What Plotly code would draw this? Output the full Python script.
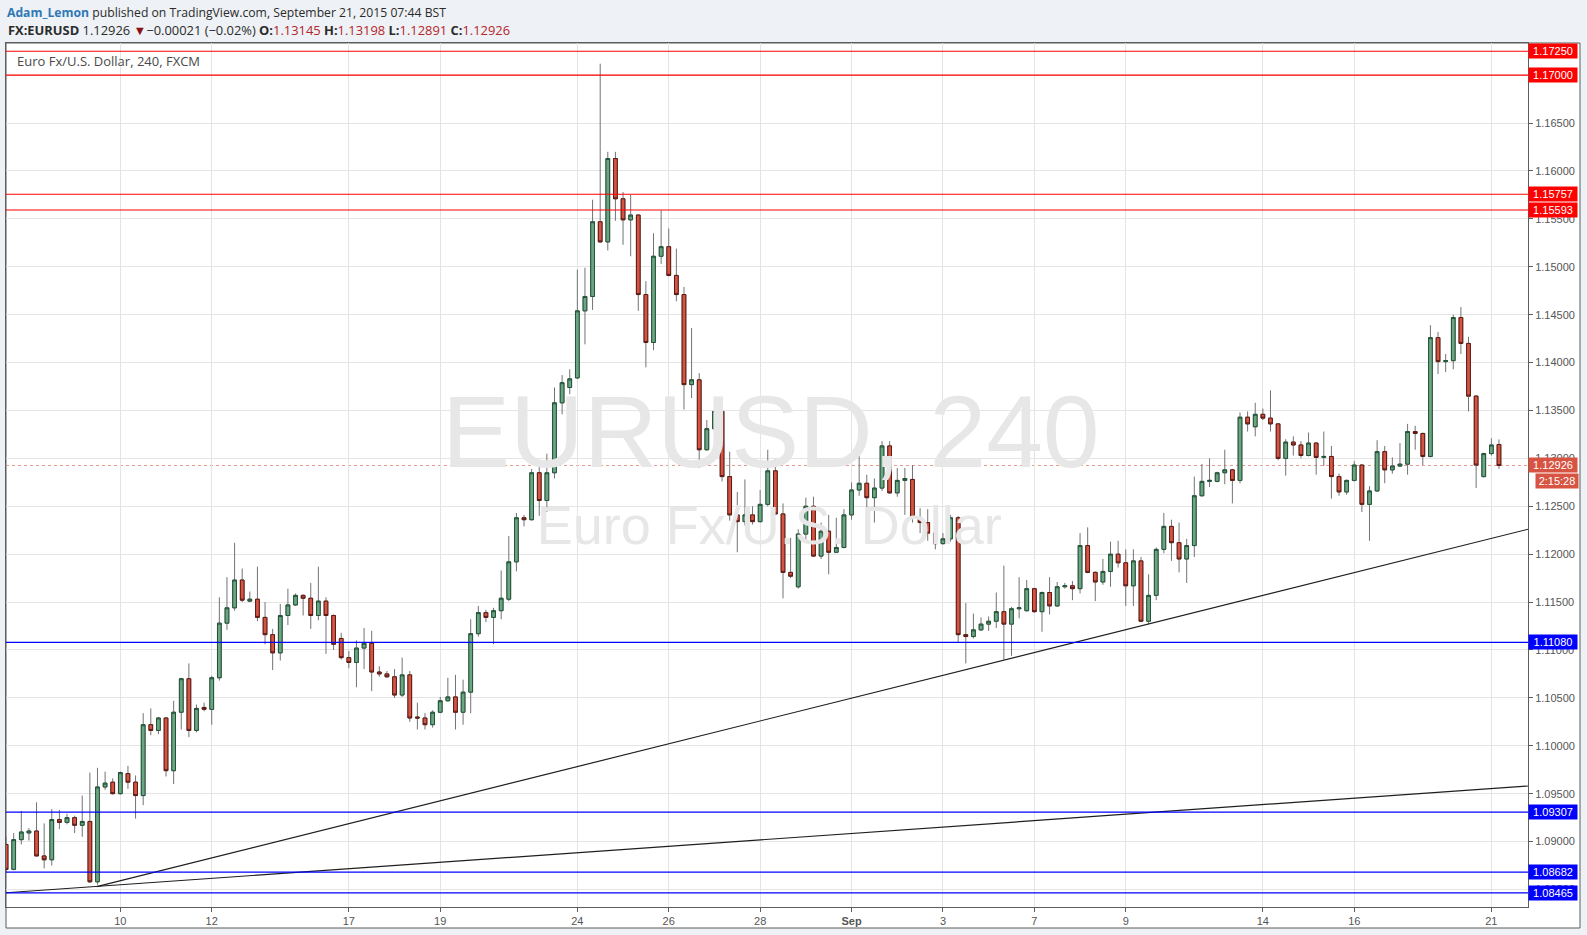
import plotly.graph_objects as go

# ---------------- data (EUR/USD, 4h candles, FXCM) ----------------
opens = [1.0897, 1.0871, 1.0902, 1.0909, 1.0911, 1.0885, 1.0881, 1.0923, 1.0920, 1.0925,
         1.0917, 1.0921, 1.0858, 1.0957, 1.0962, 1.0950, 1.0971, 1.0962, 1.0948, 1.1022,
         1.1016, 1.1029, 1.0974, 1.1035, 1.1070, 1.1016, 1.1040, 1.1038, 1.1071, 1.1128,
         1.1144, 1.1173, 1.1151, 1.1153, 1.1134, 1.1116, 1.1097, 1.1136, 1.1147, 1.1157,
         1.1154, 1.1136, 1.1151, 1.1136, 1.1112, 1.1092, 1.1087, 1.1102, 1.1107, 1.1077,
         1.1075, 1.1072, 1.1053, 1.1074, 1.1030, 1.1029, 1.1022, 1.1035, 1.1047, 1.1051,
         1.1035, 1.1056, 1.1117, 1.1139, 1.1134, 1.1141, 1.1153, 1.1192, 1.1238, 1.1236,
         1.1285, 1.1256, 1.1285, 1.1358, 1.1374, 1.1384, 1.1454, 1.1469, 1.1547, 1.1526,
         1.1613, 1.1571, 1.1549, 1.1554, 1.1471, 1.1421, 1.1511, 1.1521, 1.1491, 1.1471,
         1.1377, 1.1382, 1.1309, 1.1331, 1.1349, 1.1281, 1.1241, 1.1234, 1.1241, 1.1234,
         1.1252, 1.1287, 1.1242, 1.1181, 1.1166, 1.1221, 1.1250, 1.1198, 1.1224, 1.1202,
         1.1207, 1.1241, 1.1267, 1.1274, 1.1259, 1.1269, 1.1313, 1.1264, 1.1277, 1.1278,
         1.1238, 1.1233, 1.1222, 1.1211, 1.1216, 1.1238, 1.1116, 1.1114, 1.1121, 1.1127,
         1.1130, 1.1140, 1.1127, 1.1143, 1.1141, 1.1164, 1.1140, 1.1160, 1.1146, 1.1166,
         1.1167, 1.1164, 1.1209, 1.1181, 1.1171, 1.1182, 1.1200, 1.1191, 1.1167, 1.1193,
         1.1130, 1.1157, 1.1205, 1.1229, 1.1212, 1.1195, 1.1209, 1.1261, 1.1276, 1.1276,
         1.1285, 1.1288, 1.1277, 1.1343, 1.1333, 1.1346, 1.1342, 1.1336, 1.1300, 1.1317,
         1.1314, 1.1303, 1.1316, 1.1301, 1.1302, 1.1281, 1.1265, 1.1277, 1.1293, 1.1252,
         1.1266, 1.1307, 1.1288, 1.1292, 1.1294, 1.1328, 1.1326, 1.1302, 1.1426, 1.1401,
         1.1402, 1.1447, 1.1420, 1.1365, 1.1281, 1.1305, 1.13145]
highs = [1.0905, 1.0909, 1.0932, 1.0914, 1.0941, 1.0919, 1.0934, 1.0933, 1.0929, 1.0927,
         1.0948, 1.0972, 1.0977, 1.0973, 1.0966, 1.0973, 1.0979, 1.0969, 1.1034, 1.1039,
         1.1030, 1.1030, 1.1047, 1.1071, 1.1086, 1.1043, 1.1045, 1.1073, 1.1155, 1.1176,
         1.1212, 1.1185, 1.1161, 1.1187, 1.1150, 1.1122, 1.1148, 1.1164, 1.1159, 1.1158,
         1.1170, 1.1187, 1.1155, 1.1137, 1.1118, 1.1099, 1.1110, 1.1123, 1.1120, 1.1083,
         1.1078, 1.1080, 1.1092, 1.1078, 1.1045, 1.1034, 1.1037, 1.1051, 1.1071, 1.1074,
         1.1069, 1.1132, 1.1146, 1.1142, 1.1144, 1.1183, 1.1219, 1.1243, 1.1241, 1.1289,
         1.1292, 1.1305, 1.1374, 1.1387, 1.1393, 1.1497, 1.1499, 1.1570, 1.1712, 1.1620,
         1.1620, 1.1578, 1.1575, 1.1555, 1.1485, 1.1535, 1.1559, 1.1540, 1.1519, 1.1479,
         1.1436, 1.1389, 1.1340, 1.1356, 1.1363, 1.1307, 1.1265, 1.1278, 1.1250, 1.1267,
         1.1309, 1.1299, 1.1253, 1.1217, 1.1226, 1.1259, 1.1260, 1.1233, 1.1241, 1.1238,
         1.1247, 1.1275, 1.1331, 1.1283, 1.1279, 1.1318, 1.1318, 1.1290, 1.1290, 1.1293,
         1.1248, 1.1247, 1.1225, 1.1222, 1.1241, 1.1240, 1.1149, 1.1138, 1.1134, 1.1135,
         1.1160, 1.1188, 1.1145, 1.1176, 1.1173, 1.1165, 1.1161, 1.1176, 1.1171, 1.1170,
         1.1172, 1.1222, 1.1228, 1.1182, 1.1195, 1.1213, 1.1214, 1.1205, 1.1205, 1.1197,
         1.1179, 1.1207, 1.1243, 1.1236, 1.1233, 1.1216, 1.1281, 1.1294, 1.1300, 1.1286,
         1.1309, 1.1289, 1.1348, 1.1349, 1.1358, 1.1352, 1.1371, 1.1337, 1.1320, 1.1323,
         1.1318, 1.1327, 1.1317, 1.1328, 1.1313, 1.1284, 1.1278, 1.1297, 1.1294, 1.1271,
         1.1319, 1.1313, 1.1301, 1.1316, 1.1336, 1.1334, 1.1327, 1.1439, 1.1432, 1.1409,
         1.1450, 1.1458, 1.1427, 1.1366, 1.1306, 1.1321, 1.13198]
lows = [1.0868, 1.0870, 1.0897, 1.0901, 1.0885, 1.0872, 1.0875, 1.0913, 1.0918, 1.0909,
        1.0905, 1.0857, 1.0855, 1.0954, 1.0949, 1.0949, 1.0955, 1.0924, 1.0938, 1.1011,
        1.1012, 1.0968, 1.0960, 1.1017, 1.1009, 1.1014, 1.1036, 1.1022, 1.1068, 1.1121,
        1.1141, 1.1150, 1.1150, 1.1130, 1.1106, 1.1079, 1.1089, 1.1126, 1.1146, 1.1136,
        1.1122, 1.1131, 1.1096, 1.1100, 1.1090, 1.1081, 1.1061, 1.1080, 1.1057, 1.1072,
        1.1071, 1.1050, 1.1051, 1.1025, 1.1017, 1.1017, 1.1019, 1.1034, 1.1046, 1.1017,
        1.1022, 1.1034, 1.1114, 1.1129, 1.1106, 1.1132, 1.1151, 1.1182, 1.1229, 1.1235,
        1.1240, 1.1244, 1.1279, 1.1346, 1.1367, 1.1383, 1.1419, 1.1455, 1.1525, 1.1517,
        1.1548, 1.1523, 1.1511, 1.1454, 1.1395, 1.1413, 1.1503, 1.1490, 1.1464, 1.1351,
        1.1363, 1.1290, 1.1308, 1.1320, 1.1276, 1.1235, 1.1202, 1.1230, 1.1231, 1.1233,
        1.1250, 1.1241, 1.1154, 1.1175, 1.1164, 1.1214, 1.1197, 1.1195, 1.1179, 1.1201,
        1.1206, 1.1236, 1.1261, 1.1233, 1.1233, 1.1266, 1.1263, 1.1260, 1.1241, 1.1233,
        1.1222, 1.1214, 1.1205, 1.1210, 1.1213, 1.1108, 1.1086, 1.1112, 1.1120, 1.1120,
        1.1123, 1.1090, 1.1094, 1.1133, 1.1140, 1.1139, 1.1119, 1.1137, 1.1145, 1.1164,
        1.1152, 1.1159, 1.1180, 1.1151, 1.1168, 1.1166, 1.1186, 1.1146, 1.1146, 1.1129,
        1.1127, 1.1152, 1.1201, 1.1193, 1.1181, 1.1170, 1.1197, 1.1260, 1.1270, 1.1275,
        1.1273, 1.1253, 1.1274, 1.1328, 1.1323, 1.1340, 1.1328, 1.1298, 1.1282, 1.1303,
        1.1300, 1.1302, 1.1283, 1.1292, 1.1258, 1.1261, 1.1262, 1.1276, 1.1244, 1.1214,
        1.1265, 1.1274, 1.1284, 1.1291, 1.1283, 1.1309, 1.1293, 1.1301, 1.1388, 1.1390,
        1.1393, 1.1409, 1.1349, 1.1269, 1.1280, 1.1303, 1.12891]
closes = [1.0871, 1.0902, 1.0910, 1.0911, 1.0885, 1.0881, 1.0923, 1.0920, 1.0925, 1.0917,
          1.0921, 1.0858, 1.0957, 1.0961, 1.0950, 1.0972, 1.0962, 1.0948, 1.1022, 1.1016,
          1.1029, 1.0974, 1.1035, 1.1070, 1.1016, 1.1039, 1.1038, 1.1071, 1.1128, 1.1144,
          1.1173, 1.1152, 1.1153, 1.1134, 1.1116, 1.1097, 1.1136, 1.1147, 1.1157, 1.1154,
          1.1136, 1.1151, 1.1136, 1.1106, 1.1092, 1.1087, 1.1102, 1.1107, 1.1077, 1.1075,
          1.1072, 1.1053, 1.1074, 1.1029, 1.1029, 1.1022, 1.1035, 1.1047, 1.1051, 1.1035,
          1.1056, 1.1117, 1.1139, 1.1134, 1.1141, 1.1154, 1.1192, 1.1238, 1.1236, 1.1285,
          1.1256, 1.1285, 1.1358, 1.1379, 1.1383, 1.1454, 1.1469, 1.1547, 1.1526, 1.1613,
          1.1571, 1.1549, 1.1554, 1.1471, 1.1421, 1.1511, 1.1521, 1.1491, 1.1471, 1.1377,
          1.1382, 1.1309, 1.1331, 1.1349, 1.1281, 1.1241, 1.1234, 1.1241, 1.1234, 1.1252,
          1.1287, 1.1242, 1.1181, 1.1177, 1.1221, 1.1250, 1.1198, 1.1224, 1.1202, 1.1207,
          1.1241, 1.1267, 1.1274, 1.1259, 1.1269, 1.1313, 1.1264, 1.1277, 1.1279, 1.1238,
          1.1233, 1.1222, 1.1211, 1.1216, 1.1238, 1.1116, 1.1114, 1.1121, 1.1127, 1.1130,
          1.1140, 1.1127, 1.1143, 1.1144, 1.1164, 1.1140, 1.1160, 1.1146, 1.1166, 1.1167,
          1.1164, 1.1209, 1.1181, 1.1171, 1.1182, 1.1200, 1.1191, 1.1167, 1.1193, 1.1130,
          1.1157, 1.1205, 1.1229, 1.1212, 1.1195, 1.1209, 1.1261, 1.1276, 1.1277, 1.1285,
          1.1288, 1.1277, 1.1343, 1.1336, 1.1346, 1.1342, 1.1336, 1.1300, 1.1317, 1.1314,
          1.1303, 1.1316, 1.1301, 1.1302, 1.1281, 1.1265, 1.1277, 1.1293, 1.1252, 1.1266,
          1.1307, 1.1288, 1.1292, 1.1294, 1.1328, 1.1326, 1.1302, 1.1426, 1.1401, 1.1402,
          1.1447, 1.1420, 1.1365, 1.1293, 1.1305, 1.1314, 1.12926]
candle_index = list(range(len(opens)))

# day labels (index of first candle of the trading day)
tick_index = [15, 27, 45, 57, 75, 87, 99, 111, 123, 135, 147, 165, 177, 195]
tick_text = ["10", "12", "17", "19", "24", "26", "28", "<b>Sep</b>", "3", "7", "9", "14", "16", "21"]

red_levels = [1.17250, 1.17000, 1.15757, 1.15593]
blue_levels = [1.11080, 1.09307, 1.08682, 1.08465]
last_price = 1.12926
countdown = "2:15:28"

# trend lines (anchor points: candle index, price)
steep_trend_x = [11.9, 199.8]
steep_trend_y = [1.0853, 1.1226]
shallow_trend_x = [-1.0, 199.8]
shallow_trend_y = [1.0846, 1.0958]

# ---------------- layout geometry ----------------
W, H = 1587, 935
ML, MR, MT, MB = 6, 59, 43, 28
PW = W - ML - MR
PH = H - MT - MB


def px_x(px):
    return (px - ML) / PW


def px_y(py):
    return (H - MB - py) / PH


X_RANGE = [-0.01, 199.81]
Y_RANGE = [1.08317, 1.17336]
FONT = "Liberation Sans, Arial, sans-serif"
HFONT = "Open Sans, Liberation Sans, sans-serif"

fig = go.Figure()

# watermark (drawn first so candles sit above it)
fig.add_trace(go.Scatter(x=[100.4], y=[1.1318], mode="text", text=["EURUSD, 240"],
                         textposition="middle center",
                         textfont=dict(family=FONT, size=102, color="#e7e7e7"),
                         hoverinfo="skip", showlegend=False))
fig.add_trace(go.Scatter(x=[100.2], y=[1.1225], mode="text", text=["Euro Fx/U.S. Dollar"],
                         textposition="middle center",
                         textfont=dict(family=FONT, size=54, color="#e7e7e7"),
                         hoverinfo="skip", showlegend=False))

# wicks (grey)
fig.add_trace(go.Candlestick(x=candle_index, open=opens, high=highs, low=lows, close=closes,
                             increasing=dict(line=dict(color="#737375", width=1), fillcolor="#6ba583"),
                             decreasing=dict(line=dict(color="#737375", width=1), fillcolor="#d75442"),
                             whiskerwidth=0, hoverinfo="skip", showlegend=False))
# bodies with dark borders
body_hi = [max(o, c) for o, c in zip(opens, closes)]
body_lo = [min(o, c) for o, c in zip(opens, closes)]
fig.add_trace(go.Candlestick(x=candle_index, open=opens, high=body_hi, low=body_lo, close=closes,
                             increasing=dict(line=dict(color="#225437", width=1), fillcolor="#6ba583"),
                             decreasing=dict(line=dict(color="#5b1a13", width=1), fillcolor="#d75442"),
                             whiskerwidth=0, showlegend=False))

# trend lines
for tx, ty in [(steep_trend_x, steep_trend_y), (shallow_trend_x, shallow_trend_y)]:
    fig.add_trace(go.Scatter(x=tx, y=ty, mode="lines", line=dict(color="#1e1e1e", width=1.2),
                             hoverinfo="skip", showlegend=False))

shapes = []
# white chart panel including axis areas
shapes.append(dict(type="rect", xref="paper", yref="paper", x0=px_x(6), x1=px_x(1580),
                   y0=px_y(928), y1=px_y(43), fillcolor="white",
                   line=dict(color="#5d5d5d", width=1), layer="below"))
# last price dotted line
shapes.append(dict(type="line", xref="paper", yref="y", x0=0, x1=1, y0=last_price, y1=last_price,
                   line=dict(color="#e89a8e", width=1, dash="dot"), layer="below"))
for lv in red_levels:
    shapes.append(dict(type="line", xref="paper", yref="y", x0=0, x1=1, y0=lv, y1=lv,
                       line=dict(color="#ff0000", width=1.2)))
for lv in blue_levels:
    shapes.append(dict(type="line", xref="paper", yref="y", x0=0, x1=1, y0=lv, y1=lv,
                       line=dict(color="#0000ff", width=1.2)))

annotations = []


def price_box(y, text, color, yshift=0, width=46, xshift=0):
    annotations.append(dict(xref="paper", yref="y", x=1, y=y, xanchor="left", yanchor="middle",
                            text=text, showarrow=False, bgcolor=color, borderpad=1,
                            width=width, height=12, align="center", xshift=xshift, yshift=yshift,
                            font=dict(family=FONT, size=11, color="white")))


for lv in red_levels:
    price_box(lv, f"{lv:.5f}", "#ff0000")
for lv in blue_levels:
    price_box(lv, f"{lv:.5f}", "#0000ff")
price_box(last_price, f"{last_price:.5f}", "#d75442")
price_box(last_price, countdown, "#d75442", yshift=-16, width=40, xshift=7)

# header
annotations.append(dict(xref="paper", yref="paper", x=px_x(5), y=px_y(13), xanchor="left",
                        yanchor="middle", showarrow=False,
                        text="<span style='color:#2f78b7'><b>Adam_Lemon</b></span> published on TradingView.com, September 21, 2015 07:44 BST",
                        font=dict(family=HFONT, size=12.2, color="#2b2b2b")))
red_txt = "#b3262a"
annotations.append(dict(xref="paper", yref="paper", x=px_x(6), y=px_y(30), xanchor="left",
                        yanchor="middle", showarrow=False,
                        text=("<b>FX:EURUSD</b> 1.12926 <span style='color:#8b1010'>▼</span>−0.00021 (−0.02%) "
                              f"<b>O:</b><span style='color:{red_txt}'>1.13145</span> "
                              f"<b>H:</b><span style='color:{red_txt}'>1.13198</span> "
                              f"<b>L:</b><span style='color:{red_txt}'>1.12891</span> "
                              f"<b>C:</b><span style='color:{red_txt}'>1.12926</span>"),
                        font=dict(family=HFONT, size=12.9, color="#2b2b2b")))
# chart title inside plot
annotations.append(dict(xref="paper", yref="paper", x=px_x(15), y=px_y(61), xanchor="left",
                        yanchor="middle", showarrow=False, text="Euro Fx/U.S. Dollar, 240, FXCM",
                        font=dict(family=HFONT, size=13, color="#4a4a4a")))

fig.update_layout(
    width=W, height=H, autosize=False,
    margin=dict(l=ML, r=MR, t=MT, b=MB, pad=0),
    paper_bgcolor="#eef1f5", plot_bgcolor="white",
    shapes=shapes, annotations=annotations,
    showlegend=False, hovermode=False,
    xaxis=dict(range=X_RANGE, tickmode="array", tickvals=tick_index, ticktext=tick_text,
               showgrid=True, gridcolor="#e4e4e4", gridwidth=1, zeroline=False,
               showline=True, linecolor="#5d5d5d", linewidth=1, mirror=True,
               ticks="outside", ticklen=4, tickcolor="#5d5d5d",
               tickfont=dict(family=FONT, size=11, color="#555555"),
               rangeslider=dict(visible=False), fixedrange=True),
    yaxis=dict(range=Y_RANGE, side="right", tick0=1.0, dtick=0.005, tickformat=".5f",
               showgrid=True, gridcolor="#e4e4e4", gridwidth=1, zeroline=False,
               showline=True, linecolor="#5d5d5d", linewidth=1, mirror=True,
               ticks="outside", ticklen=4, tickcolor="#5d5d5d",
               tickfont=dict(family=FONT, size=11, color="#555555"), fixedrange=True),
)

fig.write_html("out.html", config={"displayModeBar": False},
               post_script="document.body.style.margin='0';")
